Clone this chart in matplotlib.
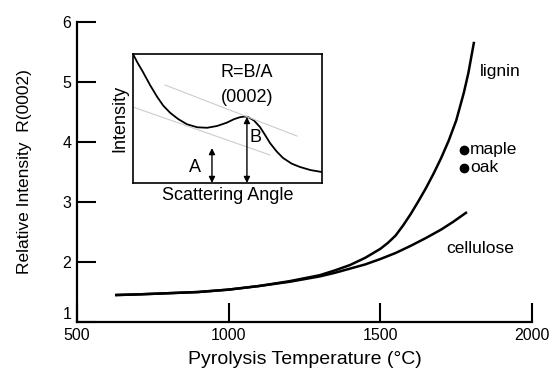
import numpy as np
import matplotlib.pyplot as plt

plt.rcParams['font.family'] = ['Liberation Sans', 'DejaVu Sans']

# main curves: pyrolysis temperature (°C) vs relative intensity R(0002)
lignin_t = [630, 700, 800, 900, 1000, 1100, 1200, 1300, 1350, 1400, 1450, 1500,
            1525, 1550, 1575, 1600, 1625, 1650, 1675, 1700, 1725, 1750, 1775,
            1790, 1808]
lignin_r = [1.45, 1.46, 1.48, 1.50, 1.54, 1.60, 1.68, 1.78, 1.86, 1.95, 2.07, 2.22,
            2.32, 2.44, 2.61, 2.80, 3.01, 3.23, 3.47, 3.73, 4.02, 4.36, 4.82,
            5.15, 5.65]
cell_t = [630, 700, 800, 900, 1000, 1100, 1200, 1300, 1350, 1400, 1450, 1500,
          1550, 1600, 1650, 1700, 1740, 1782]
cell_r = [1.45, 1.46, 1.48, 1.50, 1.54, 1.60, 1.67, 1.76, 1.82, 1.89, 1.96, 2.05,
          2.15, 2.27, 2.40, 2.54, 2.67, 2.82]

# wood samples
wood_names = ["maple", "oak"]
wood_t = [1775, 1775]
wood_r = [3.87, 3.57]

# inset: schematic diffraction profile
ins_x = [0, 0.25, 0.53, 0.9, 1.27, 1.6, 1.96, 2.4, 2.86, 3.4, 3.92, 4.45, 4.97,
         5.35, 5.66, 5.9, 6.08, 6.4, 6.72, 7.0, 7.25, 7.6, 7.94, 8.4, 8.84, 9.4, 10]
ins_y = [10, 9.3, 8.6, 7.6, 6.7, 6.0, 5.45, 4.95, 4.55, 4.32, 4.28, 4.42, 4.68,
         4.95, 5.1, 5.15, 5.12, 4.85, 4.34, 3.7, 3.1, 2.45, 1.94, 1.5, 1.24, 1.0, 0.85]
upper_x, upper_y = [1.69, 8.68], [7.60, 3.64]
lower_x, lower_y = [0, 7.25], [5.89, 2.17]
a_x, a_top = 4.18, 2.71
b_x, b_top = 6.03, 5.12

fig = plt.figure(figsize=(5.55, 3.75), dpi=100)
ax = fig.add_axes([0.1387, 0.1413, 0.82, 0.80])

ax.plot(lignin_t, lignin_r, color='black', lw=1.8)
ax.plot(cell_t, cell_r, color='black', lw=1.8)
ax.plot(wood_t, wood_r, 'o', color='black', ms=6)
for name, t, r in zip(wood_names, wood_t, wood_r):
    ax.text(t + 20, r, name, fontsize=12.5, va='center', ha='left')
ax.text(1828, 5.17, "lignin", fontsize=12.5, va='center', ha='left')
ax.text(1716, 2.23, "cellulose", fontsize=12.5, va='center', ha='left')

ax.set_xlim(500, 2000)
ax.set_ylim(1, 6)
ax.set_xticks([500, 1000, 1500, 2000])
ax.set_yticks([1, 2, 3, 4, 5, 6])
ax.tick_params(direction='in', length=14, width=1.5, labelsize=11.5, pad=4)
ax.yaxis.get_major_ticks()[0].label1.set_verticalalignment('bottom')
for s in ['top', 'right']:
    ax.spines[s].set_visible(False)
for s in ['left', 'bottom']:
    ax.spines[s].set_linewidth(1.6)
ax.set_xlabel("Pyrolysis Temperature (°C)", fontsize=14, labelpad=6)
ax.set_ylabel("Relative Intensity  R(0002)", fontsize=12.5, labelpad=22)

# inset
ins = fig.add_axes([0.2396, 0.512, 0.3405, 0.344])
ins.plot(ins_x, ins_y, color='black', lw=1.3)
ins.plot(upper_x, upper_y, color='#cccccc', lw=0.8)
ins.plot(lower_x, lower_y, color='#cccccc', lw=0.8)
arrow = dict(arrowstyle='<|-|>', color='black', lw=1.0, mutation_scale=9,
             shrinkA=0, shrinkB=0)
ins.annotate('', xy=(a_x, 0), xytext=(a_x, a_top), arrowprops=arrow)
ins.annotate('', xy=(b_x, 0), xytext=(b_x, b_top), arrowprops=arrow)
ins.text(3.28, 1.24, "A", fontsize=13, ha='center', va='center')
ins.text(6.46, 3.49, "B", fontsize=13, ha='center', va='center')
ins.text(6.03, 8.53, "R=B/A", fontsize=13, ha='center', va='center')
ins.text(6.03, 6.59, "(0002)", fontsize=13, ha='center', va='center')
ins.set_xlim(0, 10)
ins.set_ylim(0, 10)
ins.set_xticks([])
ins.set_yticks([])
for s in ins.spines.values():
    s.set_linewidth(1.2)
ins.set_xlabel("Scattering Angle", fontsize=13, labelpad=3)
ins.set_ylabel("Intensity", fontsize=13, labelpad=3)

fig.savefig("out.png", dpi=100)
